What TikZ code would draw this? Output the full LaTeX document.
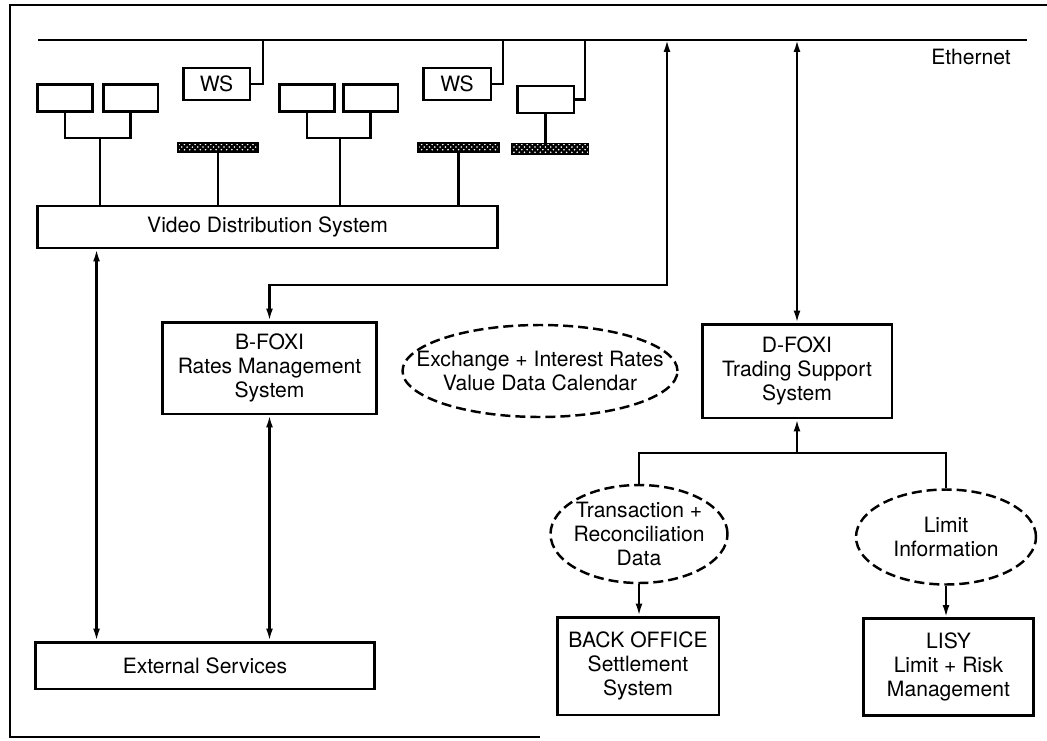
\documentclass[tikz,border=0pt]{standalone}
\usepackage{fontspec}
\setmainfont{TeX Gyre Heros}
\usepackage{tikz}
\usetikzlibrary{patterns}
\usetikzlibrary{shapes,positioning,calc}
\usetikzlibrary{shapes.geometric}
\usetikzlibrary{arrows.meta}
\tikzstyle{sistema} = [rectangle, draw=black, line width=1.7pt, align=center, inner sep=0pt, font=\fontsize{12}{13.6}\selectfont]
\tikzstyle{dati} = [ellipse, draw=black, dash pattern=on 2mm off 1mm, line width=1.4pt, align=center, inner ysep=0pt, font=\fontsize{12}{13.6}\selectfont]
\tikzstyle{schermo} = [rectangle, draw=black, line width=1.7pt, minimum width=1.1cm, minimum height=0.54cm, inner sep=0pt]
\tikzstyle{tastiera} = [rectangle, draw=black, line width=0.8pt, preaction={fill=black}, pattern=crosshatch dots, pattern color=white, minimum height=0.18cm, inner sep=0pt]
\tikzstyle{linea} = [line width=1.2pt]
\tikzstyle{arrow} = [line width=1.2pt, >={Latex[length=2.4mm,width=1.4mm]}, <->]
\tikzstyle{arrowend} = [line width=1.2pt, >={Latex[length=2.4mm,width=1.4mm]}, ->]

\begin{document}
\begin{tikzpicture}[x=0.02cm, y=-0.02cm]
	\useasboundingbox (0,0) rectangle (1047,740);
	% cornice
	\draw[line width=1.4pt] (1047,5) -- (10,5) -- (10,737) -- (540,737);
	% ethernet
	\coordinate (eth0) at (38,40);
	\coordinate (eth1) at (1027,40);
	\draw[line width=1.3pt] (eth0) -- (eth1);
	\node (ethlab) at (971,57) [font=\fontsize{12}{13.6}\selectfont] {Ethernet};
	% schermi, WS e tastiere
	\node (s1) at (65,98) [schermo] {};
	\node (s2) at (130.5,98) [schermo] {};
	\node (ws1) at (216.5,84) [sistema, minimum width=1.34cm, minimum height=0.64cm] {WS};
	\node (k1) at (218,147.5) [tastiera, minimum width=1.6cm] {};
	\node (s3) at (307,98) [schermo] {};
	\node (s4) at (370.5,98) [schermo] {};
	\node (ws2) at (457,84) [sistema, minimum width=1.36cm, minimum height=0.64cm] {WS};
	\node (k2) at (458.5,147.5) [tastiera, minimum width=1.62cm] {};
	\node (s5) at (545.5,99.5) [schermo, minimum width=1.14cm] {};
	\node (k3) at (550,149) [tastiera, minimum width=1.54cm, minimum height=0.22cm] {};
	\node (vds) at (267.5,227) [sistema, minimum width=9.22cm, minimum height=0.84cm] {Video Distribution System};
	% sistemi
	\node (bfoxi) at (269.5,368) [sistema, minimum width=4.3cm, minimum height=1.84cm] {B-FOXI\\Rates Management\\System};
	\node (cal) at (540,371) [dati, inner xsep=-0.56cm, minimum width=5.5cm, minimum height=1.84cm] {Exchange + Interest Rates\\Value Data Calendar};
	\node (dfoxi) at (797,371) [sistema, minimum width=3.8cm, minimum height=1.88cm] {D-FOXI\\Trading Support\\System};
	\node (ext) at (205,665.5) [sistema, minimum width=6.8cm, minimum height=0.94cm] {External Services};
	\node (trans) at (639,534) [dati, inner xsep=-0.2cm, minimum width=3.54cm, minimum height=1.96cm] {Transaction +\\Reconciliation\\Data};
	\node (limit) at (946,537) [dati, inner xsep=0pt, minimum width=3.6cm, minimum height=1.9cm] {Limit\\Information};
	\node (bo) at (638,666) [sistema, minimum width=3.24cm, minimum height=1.96cm] {BACK OFFICE\\Settlement\\System};
	\node (lisy) at (948.5,667) [sistema, minimum width=3.4cm, minimum height=1.94cm] {LISY\\Limit + Risk\\Management};
	% collegamenti sopra
	\coordinate (tee1) at (100,138);
	\coordinate (tee2) at (340,138);
	\draw[linea] (s1.south) |- (tee1) -| (s2.south);
	\draw[linea] (tee1) -- (tee1 |- vds.north);
	\draw[linea] (s3.south) |- (tee2) -| (s4.south);
	\draw[linea] (tee2) -- (tee2 |- vds.north);
	\coordinate (e1) at (263,40);
	\coordinate (e2) at (503,40);
	\coordinate (e3) at (585,40);
	\draw[linea] (ws1.east) -| (e1);
	\draw[linea] (ws2.east) -| (e2);
	\draw[linea] (s5.east) -| (e3);
	\draw[linea] (k1.south) -- (k1.south |- vds.north);
	\draw[linea] (k2.south) -- (k2.south |- vds.north);
	\draw[linea] (s5.south) -- (s5.south |- k3.north);
	% frecce
	\coordinate (e4) at (667,40);
	\coordinate (gomito) at (667,285);
	\coordinate (e5) at (797,40);
	\draw[arrow] (e4) -- (gomito) -| (bfoxi.north);
	\draw[arrow] (e5) -- (dfoxi.north);
	\coordinate (v1) at ($(vds.south west)+(61,0)$);
	\draw[arrow] (v1) -- (v1 |- ext.north);
	\draw[arrow] (bfoxi.south) -- (bfoxi.south |- ext.north);
	\coordinate (tee3) at (797,453);
	\draw[arrowend] (tee3) -- (dfoxi.south);
	\draw[linea] (trans.north) |- (tee3) -| (limit.north);
	\draw[arrowend] (trans.south) -- (trans.south |- bo.north);
	\draw[arrowend] (limit.south) -- (limit.south |- lisy.north);
\end{tikzpicture}
\end{document}
